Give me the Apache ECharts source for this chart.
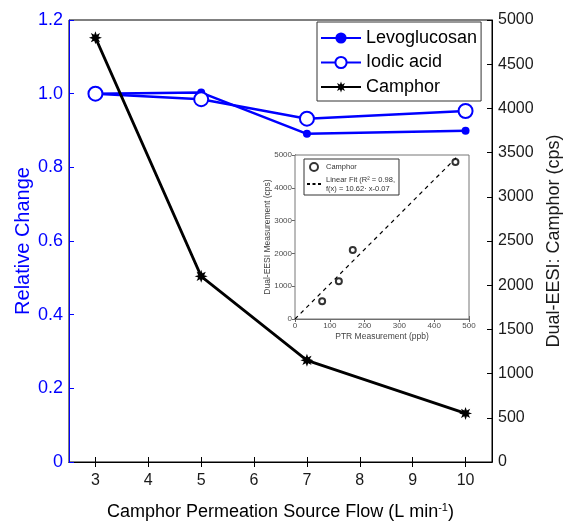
<!DOCTYPE html>
<html>
<head>
<meta charset="utf-8">
<script src="https://cdn.jsdelivr.net/npm/echarts@6/dist/echarts.min.js"></script>
<style>html,body{margin:0;padding:0;background:#fff;}#c{width:569px;height:524px;}</style>
</head>
<body>
<div id="c"></div>
<script>
// ---- data ----
var flow = [3, 5, 7, 10];                       // L min-1
var levoglucosan = [1.0, 1.003, 0.891, 0.899];  // relative change
var iodicAcid = [1.0, 0.985, 0.932, 0.953];     // relative change
var camphor = [4800, 2100, 1150, 550];          // cps
var xTicks = [3, 4, 5, 6, 7, 8, 9, 10];
// inset
var ptr = [78, 126, 166, 461];                  // ppb
var eesi = [540, 1150, 2100, 4790];             // cps
var fitX = [0, 471];
var fitY = [0, 5000];

function pairs(xs, ys) { return xs.map(function (x, i) { return [x, ys[i]]; }); }
function plain(v) { return String(v); }

var FONT = 'Liberation Sans, Arial, sans-serif';
var BLUE = '#0000ff';
var star = 'path://M20,10L14.6,11.9L17.07,17.07L11.9,14.6L10,20L8.1,14.6L2.93,17.07L5.4,11.9L0,10L5.4,8.1L2.93,2.93L8.1,5.4L10,0L11.9,5.4L17.07,2.93L14.6,8.1Z';

var chart = echarts.init(document.getElementById('c'), null, {renderer: 'canvas'});
var option = {
  animation: false,
  backgroundColor: '#fff',
  textStyle: {fontFamily: FONT},
  grid: [
    {left: 69, right: 77, top: 20, bottom: 62, show: true, borderColor: '#000', borderWidth: 1, backgroundColor: 'transparent', outerBoundsMode: 'none', containLabel: false},
    {left: 295, right: 100, top: 155, bottom: 205, show: true, borderColor: '#777', borderWidth: 1, backgroundColor: '#fff', z: 5, outerBoundsMode: 'none', containLabel: false}
  ],
  legend: [
    {
      data: ['Levoglucosan', 'Iodic acid', 'Camphor'],
      orient: 'vertical', left: 317, top: 22,
      itemWidth: 40, itemHeight: 14, itemGap: 6.5,
      padding: [7, 4, 5, 3],
      borderColor: '#333', borderWidth: 1, backgroundColor: '#fff',
      textStyle: {fontSize: 18, color: '#000', fontFamily: FONT},
      selectedMode: false
    },
    {
      data: ['CamphorInset', 'Fit'],
      orient: 'vertical', left: 304, top: 159,
      itemWidth: 14, itemHeight: 8, itemGap: 3,
      padding: [3, 4, 2, 2],
      borderColor: '#333', borderWidth: 1, backgroundColor: '#fff',
      lineStyle: {type: [3, 2.5]},
      textStyle: {fontSize: 7.5, color: '#333', fontFamily: FONT, lineHeight: 9},
      formatter: function (n) { return n === 'Fit' ? 'Linear Fit (R\u00b2 = 0.98,\nf(x) = 10.62\u00b7 x-0.07' : 'Camphor'; },
      selectedMode: false, z: 10
    }
  ],
  xAxis: [
    {
      gridIndex: 0, type: 'value', position: 'bottom', min: 2.5, max: 10.5,
      name: 'Camphor Permeation Source Flow (L min{sup|-1})',
      nameLocation: 'middle', nameGap: 40, nameMoveOverlap: false,
      nameTextStyle: {fontSize: 18, color: '#000', fontFamily: FONT, rich: {sup: {fontSize: 11, verticalAlign: 'top', padding: [0, 0, 9, 0], color: '#000'}}},
      axisLine: {lineStyle: {color: '#000', width: 1}},
      axisTick: {inside: true, length: 5, customValues: xTicks, lineStyle: {color: '#000'}},
      axisLabel: {customValues: xTicks, fontSize: 16, color: '#1a1a1a', margin: 11},
      splitLine: {show: false}
    },
    {
      gridIndex: 0, type: 'value', position: 'top', min: 2.5, max: 10.5,
      axisLine: {lineStyle: {color: '#000', width: 1}},
      axisTick: {inside: true, length: 5, customValues: xTicks, lineStyle: {color: '#000'}},
      axisLabel: {show: false}, splitLine: {show: false}
    },
    {
      gridIndex: 1, type: 'value', position: 'bottom', min: 0, max: 500, interval: 100,
      name: 'PTR Measurement (ppb)', nameLocation: 'middle', nameGap: 13, nameMoveOverlap: false,
      nameTextStyle: {fontSize: 8.5, color: '#444'},
      axisLine: {lineStyle: {color: '#666'}},
      axisTick: {inside: true, length: 3, lineStyle: {color: '#666'}},
      axisLabel: {fontSize: 8, color: '#4d4d4d', margin: 3, formatter: plain},
      splitLine: {show: false}
    },
    {
      gridIndex: 1, type: 'value', position: 'top', min: 0, max: 500, interval: 100,
      axisLine: {lineStyle: {color: '#666'}},
      axisTick: {inside: true, length: 3, lineStyle: {color: '#666'}},
      axisLabel: {show: false}, splitLine: {show: false}
    }
  ],
  yAxis: [
    {
      gridIndex: 0, type: 'value', position: 'left', min: 0, max: 1.2, interval: 0.2,
      name: 'Relative Change', nameLocation: 'middle', nameGap: 36, nameRotate: 90, nameMoveOverlap: false,
      nameTextStyle: {fontSize: 20, color: BLUE},
      axisLine: {show: true, lineStyle: {color: BLUE, width: 1}},
      axisTick: {inside: true, length: 5, lineStyle: {color: BLUE}},
      axisLabel: {fontSize: 18, color: BLUE, margin: 6, formatter: function (v) { return v === 0 ? '0' : v.toFixed(1); }},
      splitLine: {show: false}
    },
    {
      gridIndex: 0, type: 'value', position: 'right', min: 0, max: 5000, interval: 500,
      name: 'Dual-EESI: Camphor (cps)', nameLocation: 'middle', nameGap: 53, nameRotate: 90, nameMoveOverlap: false,
      nameTextStyle: {fontSize: 18, color: '#1a1a1a'},
      axisLine: {show: true, lineStyle: {color: '#000', width: 1}},
      axisTick: {inside: true, length: 5, lineStyle: {color: '#000'}},
      axisLabel: {fontSize: 16, color: '#1a1a1a', margin: 6, formatter: plain},
      splitLine: {show: false}
    },
    {
      gridIndex: 1, type: 'value', position: 'left', min: 0, max: 5000, interval: 1000,
      name: 'Dual-EESI Measurement (cps)', nameLocation: 'middle', nameGap: 23, nameRotate: 90, nameMoveOverlap: false,
      nameTextStyle: {fontSize: 8.5, color: '#444'},
      axisLine: {show: true, lineStyle: {color: '#666'}},
      axisTick: {inside: true, length: 3, lineStyle: {color: '#666'}},
      axisLabel: {fontSize: 8, color: '#4d4d4d', margin: 3, formatter: plain},
      splitLine: {show: false}
    },
    {
      gridIndex: 1, type: 'value', position: 'right', min: 0, max: 5000, interval: 1000,
      axisLine: {show: true, lineStyle: {color: '#666'}},
      axisTick: {inside: true, length: 3, lineStyle: {color: '#666'}},
      axisLabel: {show: false}, splitLine: {show: false}
    }
  ],
  series: [
    {
      name: 'Levoglucosan', type: 'line', xAxisIndex: 0, yAxisIndex: 0,
      data: pairs(flow, levoglucosan),
      symbol: 'circle', symbolSize: 8,
      lineStyle: {color: BLUE, width: 2.5}, itemStyle: {color: BLUE}, z: 3
    },
    {
      name: 'Iodic acid', type: 'line', xAxisIndex: 0, yAxisIndex: 0,
      data: pairs(flow, iodicAcid),
      symbol: 'emptyCircle', symbolSize: 14,
      lineStyle: {color: BLUE, width: 2.5}, itemStyle: {color: BLUE, borderColor: BLUE, borderWidth: 2.5}, z: 4
    },
    {
      name: 'Camphor', type: 'line', xAxisIndex: 0, yAxisIndex: 1,
      data: pairs(flow, camphor),
      symbol: star, symbolSize: 13,
      lineStyle: {color: '#000', width: 2.8}, itemStyle: {color: '#000'}, z: 5
    },
    {
      name: 'CamphorInset', type: 'scatter', xAxisIndex: 2, yAxisIndex: 2,
      data: pairs(ptr, eesi),
      symbol: 'emptyCircle', symbolSize: 6,
      itemStyle: {color: '#000', borderColor: '#000', borderWidth: 1.5}, z: 12
    },
    {
      name: 'Fit', type: 'line', xAxisIndex: 2, yAxisIndex: 2,
      data: pairs(fitX, fitY),
      symbol: 'none',
      itemStyle: {color: '#000', opacity: 0},
      lineStyle: {color: '#000', width: 1.2, type: [4, 4], opacity: 1}, z: 11
    }
  ]
};
chart.setOption(option);
</script>
</body>
</html>
